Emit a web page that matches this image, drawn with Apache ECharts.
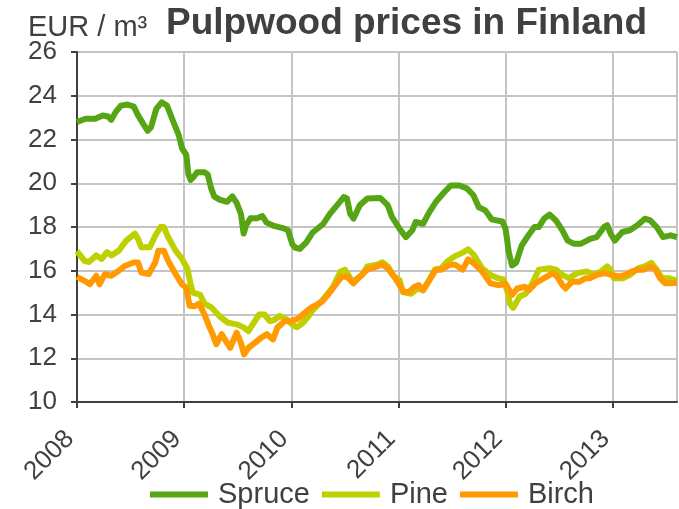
<!DOCTYPE html>
<html>
<head>
<meta charset="utf-8">
<script src="https://cdn.jsdelivr.net/npm/echarts@6/dist/echarts.min.js"></script>
<style>
  html, body { margin: 0; padding: 0; background: #ffffff; }
  #chart { width: 679px; height: 509px; }
</style>
</head>
<body>
<div id="chart"></div>
<script>
// Pulpwood stumpage prices in Finland, EUR per cubic metre, by decimal year
const unitLabel = 'EUR / m³';
const chartTitle = 'Pulpwood prices in Finland';
const seriesNames = ['Spruce', 'Pine', 'Birch'];
const seriesColors = ['#57A414', '#BFD000', '#FF9A00'];
const yearTicks = [2008, 2009, 2010, 2011, 2012, 2013];
const priceTicks = [10, 12, 14, 16, 18, 20, 22, 24, 26];

const sprucePrices = [
  [2008.00, 22.8], [2008.08, 22.95], [2008.17, 22.95], [2008.24, 23.1], [2008.29, 23.05],
  [2008.32, 22.9], [2008.36, 23.25], [2008.41, 23.55], [2008.47, 23.6], [2008.53, 23.5],
  [2008.57, 23.1], [2008.62, 22.7], [2008.66, 22.4], [2008.69, 22.55], [2008.74, 23.4],
  [2008.79, 23.7], [2008.84, 23.55], [2008.90, 22.8], [2008.95, 22.2], [2008.98, 21.6],
  [2009.02, 21.3], [2009.04, 20.4], [2009.06, 20.15], [2009.09, 20.3], [2009.12, 20.5],
  [2009.19, 20.5], [2009.22, 20.4], [2009.25, 19.8], [2009.28, 19.4], [2009.33, 19.25],
  [2009.40, 19.15], [2009.45, 19.4], [2009.49, 19.1], [2009.53, 18.6], [2009.555, 17.7],
  [2009.58, 18.1], [2009.62, 18.4], [2009.68, 18.4], [2009.73, 18.5], [2009.77, 18.2],
  [2009.84, 18.05], [2009.92, 17.95], [2009.97, 17.85], [2010.01, 17.2], [2010.04, 17.05],
  [2010.08, 17.0], [2010.14, 17.3], [2010.20, 17.75], [2010.30, 18.15], [2010.36, 18.6],
  [2010.44, 19.07], [2010.49, 19.37], [2010.52, 19.3], [2010.55, 18.6], [2010.58, 18.38],
  [2010.64, 19.0], [2010.71, 19.3], [2010.83, 19.33], [2010.90, 19.0], [2010.94, 18.46],
  [2011.01, 17.92], [2011.07, 17.54], [2011.13, 17.85], [2011.16, 18.23], [2011.23, 18.15],
  [2011.29, 18.69], [2011.35, 19.15], [2011.43, 19.6], [2011.49, 19.9], [2011.57, 19.9],
  [2011.64, 19.76], [2011.70, 19.45], [2011.75, 18.9], [2011.81, 18.76], [2011.87, 18.35],
  [2011.97, 18.25], [2012.00, 17.92], [2012.03, 16.85], [2012.06, 16.24], [2012.10, 16.38],
  [2012.15, 17.15], [2012.21, 17.6], [2012.27, 18.0], [2012.31, 18.0], [2012.36, 18.38],
  [2012.41, 18.57], [2012.47, 18.3], [2012.53, 17.85], [2012.58, 17.38], [2012.64, 17.23],
  [2012.70, 17.23], [2012.79, 17.46], [2012.85, 17.54], [2012.92, 18.0], [2012.95, 18.08],
  [2012.98, 17.7], [2013.02, 17.38], [2013.09, 17.77], [2013.16, 17.85], [2013.23, 18.08],
  [2013.30, 18.38], [2013.35, 18.3], [2013.41, 18.0], [2013.47, 17.54], [2013.54, 17.62],
  [2013.60, 17.54]
];

const pinePrices = [
  [2008.00, 16.9], [2008.03, 16.7], [2008.07, 16.45], [2008.11, 16.4], [2008.18, 16.7],
  [2008.23, 16.54], [2008.28, 16.85], [2008.32, 16.7], [2008.39, 16.92], [2008.46, 17.38],
  [2008.54, 17.7], [2008.57, 17.46], [2008.60, 17.08], [2008.68, 17.08], [2008.73, 17.6],
  [2008.78, 18.0], [2008.81, 18.0], [2008.85, 17.54], [2008.92, 16.92], [2008.98, 16.54],
  [2009.03, 16.1], [2009.06, 15.4], [2009.08, 15.0], [2009.12, 14.95], [2009.15, 14.9],
  [2009.19, 14.5], [2009.26, 14.3], [2009.33, 13.92], [2009.41, 13.62], [2009.49, 13.55],
  [2009.56, 13.4], [2009.60, 13.24], [2009.64, 13.55], [2009.70, 14.0], [2009.75, 14.0],
  [2009.80, 13.7], [2009.84, 13.75], [2009.89, 13.93], [2009.95, 13.8], [2010.02, 13.5],
  [2010.05, 13.42], [2010.10, 13.58], [2010.15, 13.85], [2010.20, 14.2], [2010.30, 14.7],
  [2010.39, 15.27], [2010.46, 15.97], [2010.50, 16.05], [2010.57, 15.5], [2010.66, 15.8],
  [2010.71, 16.2], [2010.80, 16.28], [2010.85, 16.39], [2010.90, 16.2], [2010.96, 15.73],
  [2011.01, 15.58], [2011.04, 15.03], [2011.12, 14.95], [2011.18, 15.19], [2011.23, 15.11],
  [2011.27, 15.42], [2011.34, 16.05], [2011.40, 16.12], [2011.46, 16.44], [2011.53, 16.67],
  [2011.60, 16.83], [2011.65, 16.98], [2011.70, 16.75], [2011.78, 16.12], [2011.86, 15.81],
  [2011.93, 15.66], [2011.98, 15.6], [2012.02, 15.0], [2012.04, 14.5], [2012.07, 14.3],
  [2012.13, 14.81], [2012.19, 14.96], [2012.25, 15.43], [2012.31, 16.05], [2012.41, 16.12],
  [2012.47, 16.05], [2012.53, 15.81], [2012.59, 15.66], [2012.67, 15.89], [2012.76, 15.97],
  [2012.82, 15.81], [2012.89, 15.97], [2012.95, 16.2], [2012.98, 16.05], [2013.01, 15.66],
  [2013.10, 15.66], [2013.16, 15.81], [2013.24, 16.12], [2013.30, 16.2], [2013.36, 16.36],
  [2013.41, 16.05], [2013.46, 15.66], [2013.52, 15.66], [2013.60, 15.55]
];

const birchPrices = [
  [2008.00, 15.72], [2008.07, 15.54], [2008.12, 15.38], [2008.18, 15.77], [2008.21, 15.38],
  [2008.26, 15.85], [2008.32, 15.77], [2008.39, 16.0], [2008.45, 16.23], [2008.53, 16.38],
  [2008.57, 16.38], [2008.60, 15.92], [2008.67, 15.85], [2008.73, 16.38], [2008.76, 16.92],
  [2008.81, 16.92], [2008.85, 16.46], [2008.92, 15.85], [2008.98, 15.38], [2009.02, 15.23],
  [2009.05, 14.4], [2009.10, 14.38], [2009.14, 14.5], [2009.19, 14.0], [2009.23, 13.5],
  [2009.26, 13.17], [2009.30, 12.64], [2009.35, 13.1], [2009.40, 12.7], [2009.43, 12.48],
  [2009.49, 13.17], [2009.53, 12.7], [2009.56, 12.18], [2009.60, 12.48], [2009.66, 12.7],
  [2009.72, 12.94], [2009.77, 13.1], [2009.83, 12.86], [2009.87, 13.4], [2009.94, 13.7],
  [2010.00, 13.7], [2010.06, 13.8], [2010.12, 14.05], [2010.18, 14.3], [2010.24, 14.45],
  [2010.29, 14.6], [2010.35, 14.95], [2010.41, 15.34], [2010.47, 15.73], [2010.52, 15.73],
  [2010.58, 15.42], [2010.64, 15.73], [2010.71, 16.05], [2010.80, 16.2], [2010.85, 16.28],
  [2010.90, 16.12], [2010.97, 15.66], [2011.02, 15.27], [2011.05, 15.03], [2011.10, 15.03],
  [2011.15, 15.27], [2011.19, 15.34], [2011.23, 15.11], [2011.29, 15.58], [2011.35, 16.05],
  [2011.40, 16.05], [2011.48, 16.28], [2011.53, 16.28], [2011.60, 16.05], [2011.65, 16.52],
  [2011.70, 16.36], [2011.78, 15.97], [2011.86, 15.42], [2011.93, 15.34], [2012.00, 15.4],
  [2012.06, 14.9], [2012.11, 15.19], [2012.18, 15.27], [2012.22, 15.12], [2012.28, 15.43],
  [2012.36, 15.66], [2012.44, 15.89], [2012.48, 15.74], [2012.53, 15.35], [2012.56, 15.19],
  [2012.62, 15.5], [2012.69, 15.5], [2012.75, 15.66], [2012.79, 15.66], [2012.85, 15.81],
  [2012.93, 15.89], [2012.99, 15.81], [2013.06, 15.74], [2013.12, 15.81], [2013.18, 15.97],
  [2013.24, 16.05], [2013.29, 16.05], [2013.35, 16.2], [2013.40, 16.05], [2013.44, 15.66],
  [2013.49, 15.43], [2013.55, 15.43], [2013.60, 15.45]
];

const seriesData = [sprucePrices, pinePrices, birchPrices];
const lineWidths = [6, 6, 6];

const textColor = '#404040';
const gridColor = '#c4c4c4';
const fontFamily = '"Liberation Sans", Arial, sans-serif';

const chart = echarts.init(document.getElementById('chart'), null, { renderer: 'canvas' });

chart.setOption({
  animation: false,
  backgroundColor: '#ffffff',
  textStyle: { fontFamily: fontFamily },
  graphic: [
    {
      type: 'text', left: 28, top: 13,
      style: { text: unitLabel, fill: textColor, font: '29px ' + fontFamily }
    },
    {
      type: 'text', left: 166, top: 5,
      style: { text: chartTitle, fill: textColor, font: 'bold 37px ' + fontFamily }
    }
  ],
  legend: {
    left: 145,
    top: 475,
    icon: 'rect',
    itemWidth: 58,
    itemHeight: 6,
    itemGap: 12,
    textStyle: { fontSize: 29, color: textColor, padding: [0, 0, 0, 5], fontFamily: fontFamily },
    data: seriesNames
  },
  grid: { left: 77, right: 2, top: 52, bottom: 107, containLabel: false },
  xAxis: {
    type: 'value',
    min: yearTicks[0],
    max: 2013.6,
    interval: 1,
    axisLine: { show: true, lineStyle: { color: textColor, width: 2 } },
    axisTick: { show: true, length: 6, lineStyle: { color: textColor, width: 2 } },
    splitLine: { show: true, lineStyle: { color: gridColor, width: 2 } },
    axisLabel: {
      rotate: 45,
      margin: 26,
      padding: [0, 10, 0, 0],
      color: textColor,
      fontSize: 26,
      showMaxLabel: false,
      formatter: function (v) {
        const y = Math.round(v);
        return yearTicks.indexOf(y) >= 0 ? String(y) : '';
      }
    }
  },
  yAxis: {
    type: 'value',
    min: priceTicks[0],
    max: priceTicks[priceTicks.length - 1],
    interval: priceTicks[1] - priceTicks[0],
    axisLine: { show: true, lineStyle: { color: textColor, width: 2 } },
    axisTick: { show: true, length: 6, lineStyle: { color: textColor, width: 2 } },
    splitLine: { show: true, lineStyle: { color: gridColor, width: 2 } },
    axisLabel: { color: textColor, fontSize: 26, margin: 20 }
  },
  series: seriesNames.map(function (name, i) {
    return {
      name: name,
      type: 'line',
      data: seriesData[i],
      showSymbol: false,
      symbol: 'none',
      color: seriesColors[i],
      lineStyle: { color: seriesColors[i], width: lineWidths[i], join: 'round' },
      z: 2 + i
    };
  })
});
</script>
</body>
</html>
